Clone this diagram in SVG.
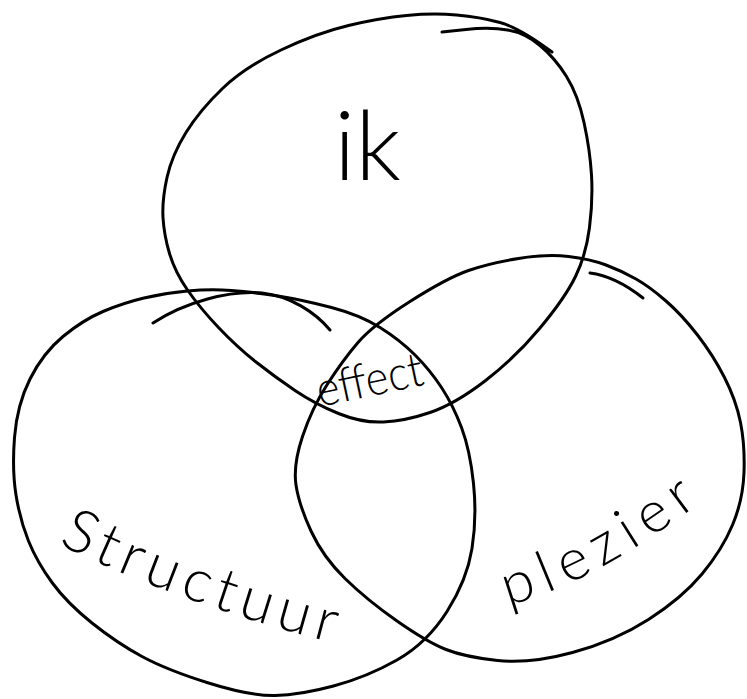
<svg xmlns="http://www.w3.org/2000/svg" width="747" height="699" viewBox="0 0 747 699">
  <defs>
    <style>
      .ring { fill: none; stroke: #000; stroke-width: 3; stroke-linecap: round; stroke-linejoin: round; }
      .lbl { font-family: "Lato", "Open Sans", "Liberation Sans", sans-serif; font-weight: 300; fill: #000; }
    </style>
    <path id="structuurPath" d="M 58 544 Q 185 606 345 646"/>
    <path id="plezierPath" d="M 508 606 Q 603 580 716 490"/>
  </defs>
  <rect width="747" height="699" fill="#fff"/>
  <g id="connectors"/>
  <g id="ik">
    <path class="ring" d="M 442 32 L 466 29.5 Q 490 27 507.5 30 Q 525 33 540 45.5 Q 555 58 566.5 76.5 Q 578 95 584 122.5 Q 590 150 591.5 175 Q 593 200 589.5 227.5 Q 586 255 575.5 276.5 Q 565 298 540 328 Q 515 358 485 381 Q 455 404 430 412.5 Q 405 421 383.5 422 Q 362 423 338.5 413.5 Q 315 404 295 390.5 Q 275 377 256 362 Q 237 347 218.5 327.5 Q 200 308 187.5 290 Q 175 272 169.5 253.5 Q 164 235 163 217.5 Q 162 200 167 177.5 Q 172 155 186 132.5 Q 200 110 222.5 88.5 Q 245 67 281 50 Q 317 33 348.5 25.5 Q 380 18 406.5 15.5 Q 433 13 456.5 15 Q 480 17 500 22.5 Q 520 28 552 52"/>
    <text class="lbl" x="334" y="180" font-size="96">ik</text>
  </g>
  <g id="structuur">
    <path class="ring" d="M 187.5 291 Q 210 289 231.5 290.5 Q 253 292 278 296 Q 303 300 331.5 307.5 Q 360 315 380 327.5 Q 400 340 415 355 Q 430 370 441.5 387.5 Q 453 405 461.5 427.5 Q 470 450 473.5 483.5 Q 477 517 472 548.5 Q 467 580 447 611.5 Q 427 643 397 660 Q 367 677 333.5 686 Q 300 695 275 695.5 Q 250 696 208.5 683 Q 167 670 142 656.5 Q 117 643 92 623 Q 67 603 52 582.5 Q 37 562 28.5 541 Q 20 520 16 495 Q 12 470 14.5 437.5 Q 17 405 30 379 Q 43 353 63 336.5 Q 83 320 103 311.5 Q 123 303 144 298 Q 165 293 187.5 291 Z"/>
    <path class="ring" d="M 153 323 C 185 302 230 290 262 293 C 290 296 315 312 330 330"/>
    <text class="lbl" font-size="60"><textPath href="#structuurPath" textLength="292" lengthAdjust="spacing">Structuur</textPath></text>
  </g>
  <g id="plezier">
    <path class="ring" d="M 518.5 258.5 Q 547 254 568.5 256.5 Q 590 259 606 265 Q 622 271 636 279 Q 650 287 666 301 Q 682 315 697.5 335 Q 713 355 724.5 377.5 Q 736 400 740.5 422.5 Q 745 445 744 472.5 Q 743 500 732.5 525 Q 722 550 702 574 Q 682 598 648.5 619.5 Q 615 641 572.5 652.5 Q 530 664 497.5 660.5 Q 465 657 446 649.5 Q 427 642 397 621 Q 367 600 345 578.5 Q 323 557 311 531 Q 299 505 296 485 Q 293 465 302.5 436.5 Q 312 408 327.5 384 Q 343 360 358 342.5 Q 373 325 410 301.5 Q 447 278 468.5 270.5 Q 490 263 518.5 258.5 Z"/>
    <path class="ring" d="M 590 273 Q 615 276 643 298"/>
    <text class="lbl" font-size="58"><textPath href="#plezierPath" textLength="218" lengthAdjust="spacing">plezier</textPath></text>
  </g>
  <g id="effect">
    <text class="lbl" x="320" y="407" font-size="48" font-weight="400" textLength="108" lengthAdjust="spacingAndGlyphs" transform="rotate(-12 320 407)">effect</text>
  </g>
</svg>
